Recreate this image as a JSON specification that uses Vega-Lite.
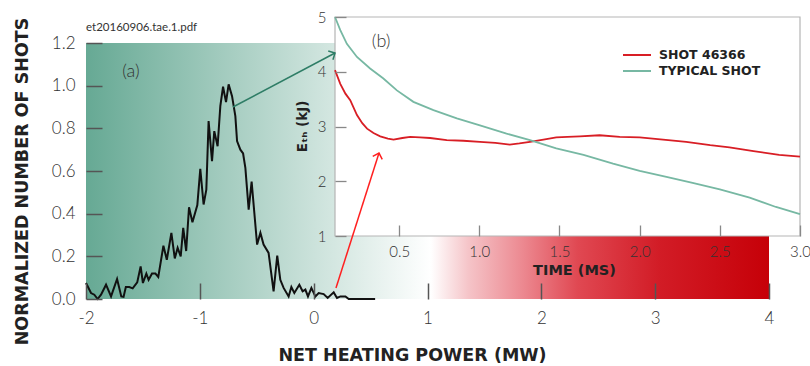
{
  "$schema": "https://vega.github.io/schema/vega-lite/v6.json",
  "width": 714,
  "height": 282,
  "autosize": "none",
  "padding": {"left": 86, "top": 17, "right": 10, "bottom": 67},
  "background": "white",
  "config": {
    "view": {"stroke": null},
    "axis": {"labelFont": "Lato", "labelFontWeight": 300, "labelColor": "#333333", "grid": false, "labelFlush": false, "labelOverlap": false}
  },
  "resolve": {
    "scale": {"x": "independent", "y": "independent", "color": "independent"},
    "axis": {"x": "independent", "y": "independent"}
  },
  "layer": [
    {
      "data": {"values": [
        {"p": -2.0, "n": 0.075}, {"p": -1.956, "n": 0.028}, {"p": -1.927, "n": 0.02}, {"p": -1.898, "n": 0.0},
        {"p": -1.868, "n": 0.02}, {"p": -1.824, "n": 0.067}, {"p": -1.78, "n": 0.012}, {"p": -1.727, "n": 0.094},
        {"p": -1.69, "n": 0.012}, {"p": -1.67, "n": 0.01}, {"p": -1.65, "n": 0.056}, {"p": -1.62, "n": 0.056},
        {"p": -1.59, "n": 0.05}, {"p": -1.55, "n": 0.078}, {"p": -1.52, "n": 0.153}, {"p": -1.5, "n": 0.075},
        {"p": -1.47, "n": 0.119}, {"p": -1.45, "n": 0.09}, {"p": -1.42, "n": 0.119}, {"p": -1.39, "n": 0.119},
        {"p": -1.365, "n": 0.103}, {"p": -1.32, "n": 0.25}, {"p": -1.29, "n": 0.184}, {"p": -1.25, "n": 0.31},
        {"p": -1.22, "n": 0.19}, {"p": -1.195, "n": 0.24}, {"p": -1.168, "n": 0.2}, {"p": -1.146, "n": 0.333},
        {"p": -1.12, "n": 0.225}, {"p": -1.095, "n": 0.43}, {"p": -1.065, "n": 0.36}, {"p": -1.022, "n": 0.44},
        {"p": -0.996, "n": 0.61}, {"p": -0.967, "n": 0.443}, {"p": -0.943, "n": 0.513}, {"p": -0.923, "n": 0.834},
        {"p": -0.893, "n": 0.646}, {"p": -0.873, "n": 0.787}, {"p": -0.844, "n": 0.716}, {"p": -0.82, "n": 0.904},
        {"p": -0.796, "n": 0.995}, {"p": -0.77, "n": 0.923}, {"p": -0.747, "n": 1.006}, {"p": -0.717, "n": 0.951},
        {"p": -0.688, "n": 0.857}, {"p": -0.673, "n": 0.74}, {"p": -0.644, "n": 0.7}, {"p": -0.62, "n": 0.682},
        {"p": -0.6, "n": 0.615}, {"p": -0.571, "n": 0.419}, {"p": -0.545, "n": 0.55}, {"p": -0.497, "n": 0.255},
        {"p": -0.468, "n": 0.31}, {"p": -0.44, "n": 0.255}, {"p": -0.396, "n": 0.216}, {"p": -0.352, "n": 0.036},
        {"p": -0.32, "n": 0.203}, {"p": -0.293, "n": 0.09}, {"p": -0.264, "n": 0.052}, {"p": -0.22, "n": 0.012},
        {"p": -0.196, "n": 0.056}, {"p": -0.17, "n": 0.028}, {"p": -0.126, "n": 0.067}, {"p": -0.097, "n": 0.036},
        {"p": -0.073, "n": 0.044}, {"p": -0.05, "n": 0.012}, {"p": -0.02, "n": 0.052}, {"p": 0.015, "n": 0.012},
        {"p": 0.044, "n": 0.028}, {"p": 0.088, "n": 0.023}, {"p": 0.123, "n": 0.005}, {"p": 0.176, "n": 0.031},
        {"p": 0.205, "n": 0.005}, {"p": 0.235, "n": 0.012}, {"p": 0.279, "n": 0.012}, {"p": 0.308, "n": 0.0},
        {"p": 0.54, "n": 0.0}
      ]},
      "layer": [
        {
          "data": {"values": [{}]},
          "mark": {"type": "rect", "fill": {"gradient": "linear", "x1": 0, "y1": 0, "x2": 1, "y2": 0, "stops": [
            {"offset": 0, "color": "#66a994"},
            {"offset": 0.505, "color": "#ffffff"},
            {"offset": 0.56, "color": "#f5c4c8"},
            {"offset": 0.64, "color": "#ec8890"},
            {"offset": 0.72, "color": "#e04852"},
            {"offset": 0.84, "color": "#d21c26"},
            {"offset": 1, "color": "#c60008"}
          ]}},
          "encoding": {
            "x": {"datum": -2, "type": "quantitative", "scale": {"domain": [-2, 4], "range": [0, 683], "nice": false}},
            "x2": {"datum": 4},
            "y": {"datum": 0, "type": "quantitative", "scale": {"domain": [0, 1.2], "range": [282, 26], "nice": false}},
            "y2": {"datum": 1.2}
          }
        },
        {
          "mark": {"type": "line", "color": "#111111", "strokeWidth": 2},
          "encoding": {
            "x": {"field": "p", "type": "quantitative", "scale": {"domain": [-2, 4], "range": [0, 683], "nice": false},
              "axis": {"title": "NET HEATING POWER (MW)", "values": [-2, -1, 0, 1, 2, 3, 4], "labelExpr": "toString(datum.value)",
                "domain": false, "tickSize": -16, "tickWidth": 1.5, "tickColor": "#555555", "labelPadding": 27, "labelFontSize": 17,
                "titleFont": "DejaVu Sans", "titleFontSize": 17.5, "titleFontWeight": "bold", "titleColor": "#222222",
                "titleX": 326, "titleY": 61, "titleBaseline": "alphabetic", "zindex": 1}},
            "y": {"field": "n", "type": "quantitative", "scale": {"domain": [0, 1.2], "range": [282, 26], "nice": false},
              "axis": {"title": "NORMALIZED NUMBER OF SHOTS", "values": [0, 0.2, 0.4, 0.6, 0.8, 1, 1.2], "format": ".1f",
                "domain": false, "tickSize": -16, "tickWidth": 1.5, "tickColor": "#555555", "labelPadding": 27, "labelFontSize": 17,
                "titleFont": "DejaVu Sans", "titleFontSize": 17.5, "titleFontWeight": "bold", "titleColor": "#222222",
                "titleX": -59, "titleY": 164, "titleBaseline": "alphabetic", "zindex": 1}}
          }
        }
      ]
    },
    {
      "data": {"values": [
        {"t": 0.1, "e": 4.03, "series": "SHOT 46366"}, {"t": 0.133, "e": 3.78, "series": "SHOT 46366"},
        {"t": 0.165, "e": 3.6, "series": "SHOT 46366"}, {"t": 0.195, "e": 3.48, "series": "SHOT 46366"},
        {"t": 0.237, "e": 3.21, "series": "SHOT 46366"}, {"t": 0.27, "e": 3.06, "series": "SHOT 46366"},
        {"t": 0.3, "e": 2.96, "series": "SHOT 46366"}, {"t": 0.34, "e": 2.88, "series": "SHOT 46366"},
        {"t": 0.382, "e": 2.82, "series": "SHOT 46366"}, {"t": 0.43, "e": 2.78, "series": "SHOT 46366"},
        {"t": 0.465, "e": 2.76, "series": "SHOT 46366"}, {"t": 0.52, "e": 2.79, "series": "SHOT 46366"},
        {"t": 0.569, "e": 2.81, "series": "SHOT 46366"}, {"t": 0.63, "e": 2.8, "series": "SHOT 46366"},
        {"t": 0.693, "e": 2.79, "series": "SHOT 46366"}, {"t": 0.797, "e": 2.75, "series": "SHOT 46366"},
        {"t": 0.9, "e": 2.74, "series": "SHOT 46366"}, {"t": 1.004, "e": 2.72, "series": "SHOT 46366"},
        {"t": 1.1, "e": 2.7, "series": "SHOT 46366"}, {"t": 1.19, "e": 2.67, "series": "SHOT 46366"},
        {"t": 1.25, "e": 2.69, "series": "SHOT 46366"}, {"t": 1.316, "e": 2.72, "series": "SHOT 46366"},
        {"t": 1.4, "e": 2.76, "series": "SHOT 46366"}, {"t": 1.48, "e": 2.8, "series": "SHOT 46366"},
        {"t": 1.55, "e": 2.81, "series": "SHOT 46366"}, {"t": 1.627, "e": 2.82, "series": "SHOT 46366"},
        {"t": 1.75, "e": 2.84, "series": "SHOT 46366"}, {"t": 1.876, "e": 2.81, "series": "SHOT 46366"},
        {"t": 2.0, "e": 2.8, "series": "SHOT 46366"}, {"t": 2.146, "e": 2.76, "series": "SHOT 46366"},
        {"t": 2.29, "e": 2.72, "series": "SHOT 46366"}, {"t": 2.44, "e": 2.66, "series": "SHOT 46366"},
        {"t": 2.56, "e": 2.62, "series": "SHOT 46366"}, {"t": 2.71, "e": 2.55, "series": "SHOT 46366"},
        {"t": 2.87, "e": 2.48, "series": "SHOT 46366"}, {"t": 3.0, "e": 2.45, "series": "SHOT 46366"},
        {"t": 0.1, "e": 5.0, "series": "TYPICAL SHOT"}, {"t": 0.133, "e": 4.76, "series": "TYPICAL SHOT"},
        {"t": 0.174, "e": 4.51, "series": "TYPICAL SHOT"}, {"t": 0.237, "e": 4.27, "series": "TYPICAL SHOT"},
        {"t": 0.319, "e": 4.06, "series": "TYPICAL SHOT"}, {"t": 0.4, "e": 3.88, "series": "TYPICAL SHOT"},
        {"t": 0.486, "e": 3.66, "series": "TYPICAL SHOT"}, {"t": 0.589, "e": 3.45, "series": "TYPICAL SHOT"},
        {"t": 0.714, "e": 3.3, "series": "TYPICAL SHOT"}, {"t": 0.86, "e": 3.15, "series": "TYPICAL SHOT"},
        {"t": 1.004, "e": 3.02, "series": "TYPICAL SHOT"}, {"t": 1.17, "e": 2.87, "series": "TYPICAL SHOT"},
        {"t": 1.316, "e": 2.75, "series": "TYPICAL SHOT"}, {"t": 1.48, "e": 2.6, "series": "TYPICAL SHOT"},
        {"t": 1.65, "e": 2.48, "series": "TYPICAL SHOT"}, {"t": 1.834, "e": 2.32, "series": "TYPICAL SHOT"},
        {"t": 2.0, "e": 2.19, "series": "TYPICAL SHOT"}, {"t": 2.167, "e": 2.08, "series": "TYPICAL SHOT"},
        {"t": 2.33, "e": 1.97, "series": "TYPICAL SHOT"}, {"t": 2.5, "e": 1.85, "series": "TYPICAL SHOT"},
        {"t": 2.686, "e": 1.7, "series": "TYPICAL SHOT"}, {"t": 2.85, "e": 1.53, "series": "TYPICAL SHOT"},
        {"t": 3.0, "e": 1.4, "series": "TYPICAL SHOT"}
      ]},
      "layer": [
        {
          "data": {"values": [{}]},
          "mark": {"type": "rect", "fill": "white", "stroke": "#b5b5b5", "strokeWidth": 1.2},
          "encoding": {
            "x": {"datum": 0.1, "type": "quantitative", "scale": {"domain": [0.1, 3.0], "range": [249, 714], "nice": false}},
            "x2": {"datum": 3.0},
            "y": {"datum": 1, "type": "quantitative", "scale": {"domain": [1, 5], "range": [219, 0], "nice": false}},
            "y2": {"datum": 5}
          }
        },
        {
          "mark": {"type": "line", "strokeWidth": 1.8},
          "encoding": {
            "x": {"field": "t", "type": "quantitative", "scale": {"domain": [0.1, 3.0], "range": [249, 714], "nice": false},
              "axis": {"orient": "bottom", "offset": -63, "title": "TIME (MS)", "values": [0.5, 1, 1.5, 2, 2.5, 3], "format": ".1f",
                "domain": false, "tickSize": -11, "tickWidth": 1.3, "tickColor": "#888888", "labelPadding": 19, "labelFontSize": 15,
                "titleFont": "DejaVu Sans", "titleFontSize": 14.5, "titleFontWeight": "bold", "titleColor": "#222222",
                "titleX": 488, "titleY": 38, "titleBaseline": "alphabetic", "zindex": 1}},
            "y": {"field": "e", "type": "quantitative", "scale": {"domain": [1, 5], "range": [219, 0], "nice": false},
              "axis": {"orient": "left", "offset": -249, "title": "Eₜₕ (kJ)", "values": [1, 2, 3, 4, 5], "format": "d",
                "domain": false, "tickSize": -11, "tickWidth": 1.3, "tickColor": "#888888", "labelPadding": 20, "labelFontSize": 15,
                "titleFont": "DejaVu Sans", "titleFontSize": 13.5, "titleFontWeight": "bold", "titleColor": "#222222",
                "titleX": -29, "titleY": 109, "titleBaseline": "alphabetic", "zindex": 1}},
            "color": {"field": "series", "type": "nominal",
              "scale": {"domain": ["SHOT 46366", "TYPICAL SHOT"], "range": ["#d81e25", "#77b8a3"]},
              "legend": {"orient": "none", "legendX": 543, "legendY": 30, "title": null, "symbolType": "M-2,0H2", "symbolSize": 196,
                "symbolStrokeWidth": 2, "labelFont": "DejaVu Sans", "labelFontWeight": "bold", "labelFontSize": 12.5,
                "labelColor": "#222222", "labelOffset": 14, "rowPadding": 1, "padding": 0}}
          }
        },
        {
          "data": {"values": [{}]},
          "mark": {"type": "text", "text": "(b)", "font": "Lato", "fontWeight": 300, "fontSize": 18, "color": "#333333", "align": "center", "baseline": "middle"},
          "encoding": {
            "x": {"datum": 0.388, "type": "quantitative"},
            "y": {"datum": 4.54, "type": "quantitative"}
          }
        }
      ]
    },
    {
      "data": {"values": [{}]},
      "layer": [
        {
          "mark": {"type": "rule", "color": "#2e7d66", "strokeWidth": 1.5},
          "encoding": {
            "x": {"datum": -0.709, "type": "quantitative", "scale": {"domain": [-2, 4], "range": [0, 683], "nice": false}, "axis": null},
            "y": {"datum": 0.9, "type": "quantitative", "scale": {"domain": [0, 1.2], "range": [282, 26], "nice": false}, "axis": null},
            "x2": {"datum": 0.1875},
            "y2": {"datum": 1.153}
          }
        },
        {
          "mark": {"type": "point", "shape": "M-1,-1L0,0L-1,1", "filled": false, "stroke": "#2e7d66", "strokeWidth": 1.5, "size": 100, "angle": -27.9, "opacity": 1},
          "encoding": {
            "x": {"datum": 0.1875, "type": "quantitative"},
            "y": {"datum": 1.153, "type": "quantitative"}
          }
        },
        {
          "mark": {"type": "rule", "color": "#ff2020", "strokeWidth": 1.5},
          "encoding": {
            "x": {"datum": 0.196, "type": "quantitative"},
            "y": {"datum": 0.0516, "type": "quantitative"},
            "x2": {"datum": 0.574},
            "y2": {"datum": 0.684}
          }
        },
        {
          "mark": {"type": "point", "shape": "M-1,-1L0,0L-1,1", "filled": false, "stroke": "#ff2020", "strokeWidth": 1.5, "size": 100, "angle": -72.3, "opacity": 1},
          "encoding": {
            "x": {"datum": 0.574, "type": "quantitative"},
            "y": {"datum": 0.684, "type": "quantitative"}
          }
        },
        {
          "mark": {"type": "text", "text": "(a)", "font": "Lato", "fontWeight": 300, "fontSize": 18, "color": "#333333", "align": "center", "baseline": "middle"},
          "encoding": {
            "x": {"datum": -1.605, "type": "quantitative"},
            "y": {"datum": 1.064, "type": "quantitative"}
          }
        },
        {
          "mark": {"type": "text", "text": "et20160906.tae.1.pdf", "font": "Lato", "fontSize": 11.5, "color": "#333333", "align": "left", "baseline": "alphabetic"},
          "encoding": {
            "x": {"datum": -2, "type": "quantitative"},
            "y": {"datum": 1.256, "type": "quantitative"}
          }
        }
      ]
    }
  ]
}
